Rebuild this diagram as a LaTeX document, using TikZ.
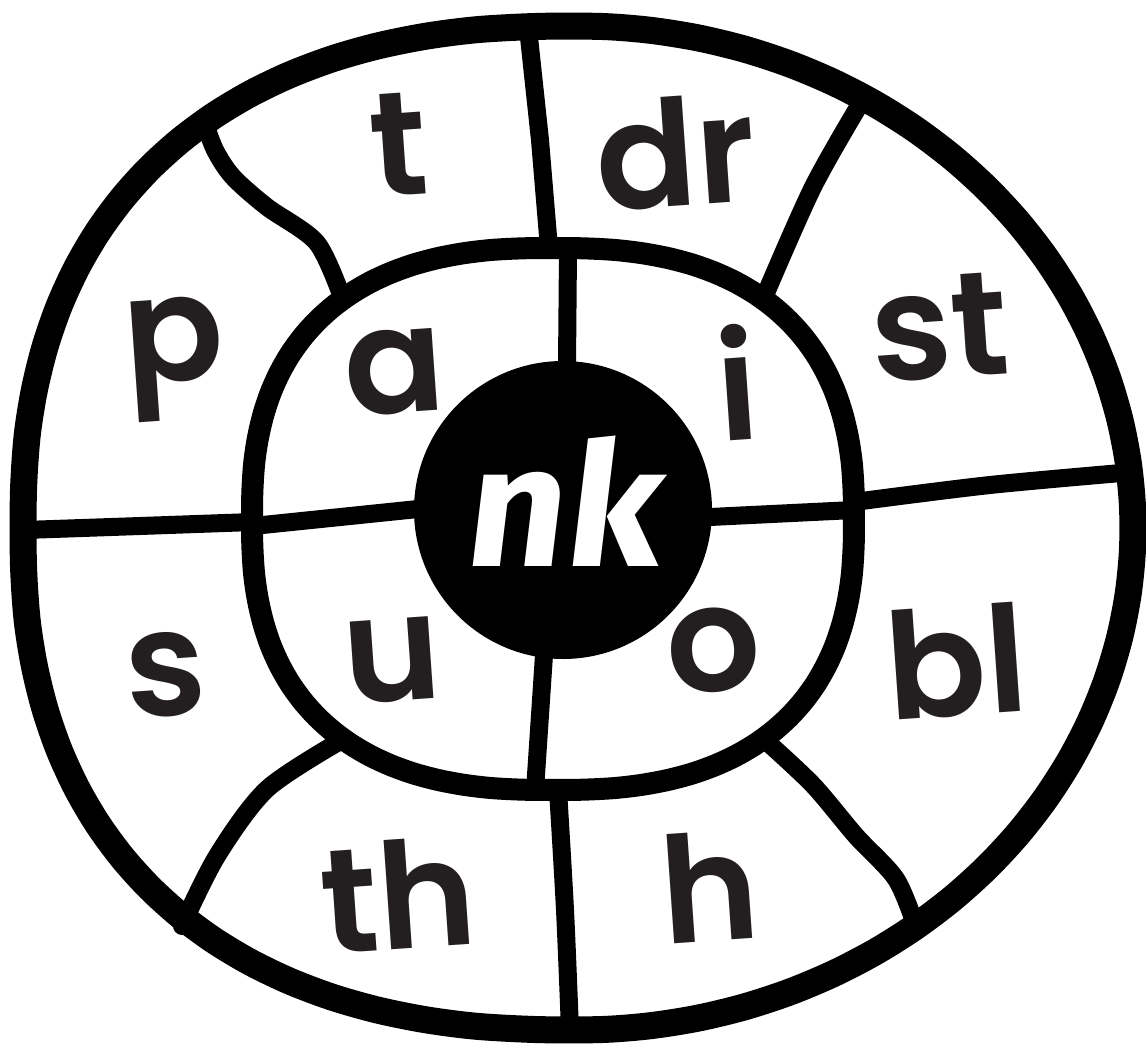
\documentclass[tikz,border=0pt]{standalone}
\usepackage{fontspec}
\newfontfamily\labfont{Poppins SemiBold}
\newfontfamily\hubfont{Fira Sans}
\definecolor{ink}{HTML}{231F20}
\begin{document}
\begin{tikzpicture}[x=1pt,y=-1pt,
  ring/.style={line width=27pt, line join=round},
  inring/.style={line width=22pt, line join=round},
  spoke/.style={line width=18pt, line cap=round, line join=round},
  lab/.style={anchor=base, inner sep=0pt, text=ink, font=\labfont\fontsize{148}{148}\selectfont, rotate=4},
  hub/.style={anchor=base, inner sep=0pt, text=white, font=\hubfont\bfseries\fontsize{172}{172}\selectfont, xslant=0.12, transform shape},
]
\useasboundingbox[fill=white] (0,0) rectangle (1146,1049);
% outer ring (slightly squarer on the left, elliptical on the right)
\draw[ring] plot[smooth cycle, variable=\t, domain=2.5:357.5, samples=72]
 ({578+555*sign(cos(\t))*abs(cos(\t))^(0.925+0.075*sign(cos(\t)))},
  {528+502*sign(sin(\t))*abs(sin(\t))^(0.925+0.075*sign(cos(\t)))});
% inner ring
\draw[inring] plot[smooth cycle, variable=\t, domain=2.5:357.5, samples=72]
 ({553+301*sign(cos(\t))*abs(cos(\t))^0.8},
  {519+271*sign(sin(\t))*abs(sin(\t))^0.8});
% hub
\fill (563,510) circle[radius=149pt];
% outer spokes
\draw[spoke] (528,28) -- (540,140) -- (549,248);
\draw[spoke] plot[smooth] coordinates {(203,118) (215,150) (233,177) (267,207) (317,243) (343,300)};
\draw[spoke] plot[smooth] coordinates {(863,99) (813,187) (763,300)};
\draw[spoke] plot[smooth] coordinates {(854,502) (990,485) (1133,472)};
\draw[spoke] plot[smooth] coordinates {(24,530) (140,526) (253,522)};
\draw[spoke] plot[smooth] coordinates {(182,926) (217,856) (267,789) (342,740)};
\draw[spoke] plot[smooth] coordinates {(558,790) (565,910) (570,1030)};
\draw[spoke] plot[smooth] coordinates {(766,741) (813,785) (856,836) (896,879) (916,927)};
% inner spokes
\draw[spoke] (568,250) -- (567,365);
\draw[spoke] (253,526) -- (418,509);
\draw[spoke] (710,517) -- (854,510);
\draw[spoke] (544,655) -- (535,790);
% labels
\node[lab] (lt)  at (402,195) {t};
\node[lab] (ldr) at (679,206) {dr};
\node[lab] (lp)  at (177,381) {p};
\node[lab] (lst) at (943,378) {st};
\node[lab] (la)  at (398,413) {a};
\node[lab] (li)  at (741,440) {i};
\node[lab] (ls)  at (169,716) {s};
\node[lab] (lu)  at (395,701) {u};
\node[lab] (lo)  at (717,691) {o};
\node[lab] (lbl) at (960,716) {bl};
\node[lab] (lth) at (402,949) {th};
\node[lab] (lh)  at (713,941) {h};
\node[hub] (lnk) at (560,566) {nk};
\end{tikzpicture}
\end{document}
